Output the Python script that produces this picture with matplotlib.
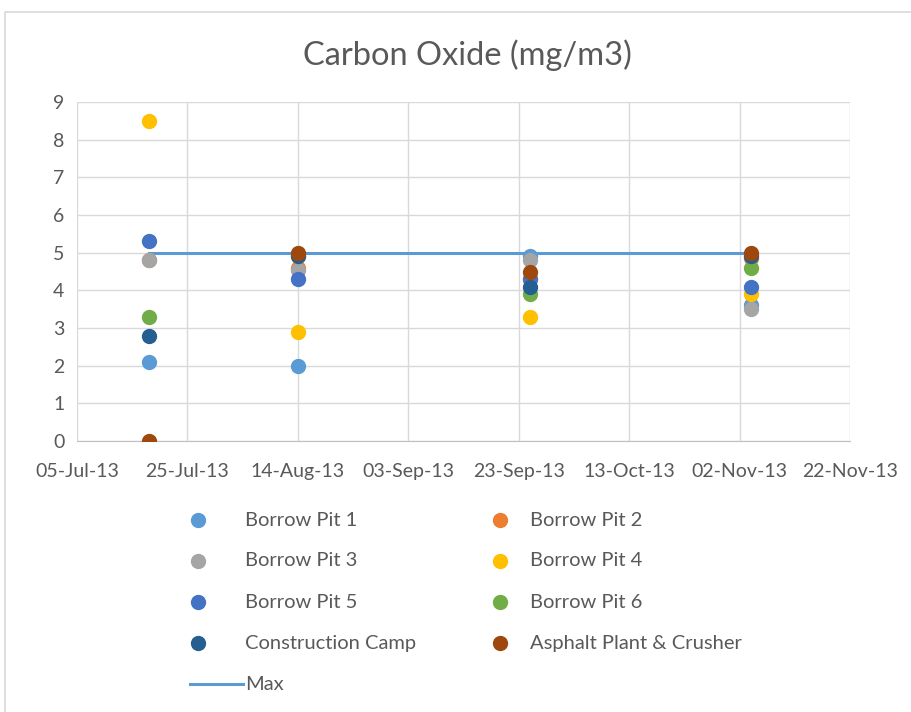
"""Carbon Oxide scatter chart, Excel style."""

import matplotlib

matplotlib.use("Agg")
import matplotlib.dates as mdates
import matplotlib.pyplot as plt
from matplotlib.lines import Line2D
from matplotlib.patches import Rectangle
import pandas as pd

plt.rcParams["font.family"] = ["Lato", "DejaVu Sans"]

# Sampling dates
dates = pd.to_datetime(["2013-07-18", "2013-08-14", "2013-09-25", "2013-11-04"])

# Values per station (mg/m3), one per sampling date
borrow_pit_1 = [2.1, 2.0, 4.9, 3.6]
borrow_pit_2 = [4.8, 4.6, 4.3, 4.85]
borrow_pit_3 = [4.8, 4.55, 4.8, 3.5]
borrow_pit_4 = [8.5, 2.9, 3.3, 3.9]
borrow_pit_5 = [5.3, 4.3, 4.3, 4.1]
borrow_pit_6 = [3.3, 4.9, 3.9, 4.6]
construction_camp = [2.8, 4.9, 4.1, 4.9]
asphalt_plant = [0.0, 5.0, 4.5, 5.0]
max_limit = [5.0, 5.0, 5.0, 5.0]

series = [
    ("Borrow Pit 1", borrow_pit_1, "#5B9BD5"),
    ("Borrow Pit 2", borrow_pit_2, "#ED7D31"),
    ("Borrow Pit 3", borrow_pit_3, "#A5A5A5"),
    ("Borrow Pit 4", borrow_pit_4, "#FFC000"),
    ("Borrow Pit 5", borrow_pit_5, "#4472C4"),
    ("Borrow Pit 6", borrow_pit_6, "#70AD47"),
    ("Construction Camp", construction_camp, "#255E91"),
    ("Asphalt Plant & Crusher", asphalt_plant, "#9E480E"),
]
max_color = "#5B9BD5"

x_start = pd.Timestamp("2013-07-05")
x_end = pd.Timestamp("2013-11-22")
x_ticks = pd.date_range(x_start, x_end, freq="20D")

text_color = "#595959"
grid_color = "#D9D9D9"
W, H = 912, 712

fig = plt.figure(figsize=(W / 100, H / 100), dpi=100)
fig.patch.set_facecolor("white")
fig.patches.append(
    Rectangle((5 / W, -0.01), 1.0, 1 - 12 / H + 0.01, transform=fig.transFigure,
              fill=False, edgecolor="#D9D9D9", linewidth=1.2)
)

ax = fig.add_axes([77 / W, 1 - 441 / H, (850 - 77) / W, (441 - 102) / H])

for name, values, color in series:
    ax.plot(dates, values, linestyle="none", marker="o", markersize=10,
            color=color, label=name, zorder=3)
ax.plot(dates, max_limit, color=max_color, linewidth=2.2, label="Max", zorder=2)

ax.set_xlim(x_start, x_end)
ax.set_ylim(0, 9)
ax.set_xticks(x_ticks)
ax.xaxis.set_major_formatter(mdates.DateFormatter("%d-%b-%y"))
ax.set_yticks(range(0, 10))

ax.grid(True, color=grid_color, linewidth=1)
ax.set_axisbelow(True)
for side in ["top", "right", "left"]:
    ax.spines[side].set_visible(False)
ax.spines["bottom"].set_color("#BFBFBF")
ax.tick_params(axis="both", length=0, labelsize=14, labelcolor=text_color)
ax.tick_params(axis="x", pad=16)
ax.tick_params(axis="y", pad=9)

fig.text(467 / W, 1 - 55 / H, "Carbon Oxide (mg/m3)", ha="center", va="center",
         fontsize=23.5, color=text_color)

# Excel-style legend: marker at left, text after it, filled row by row
entries = [(name, color) for name, _, color in series]
for i, (name, color) in enumerate(entries):
    row, col = divmod(i, 2)
    y = 1 - (520 + 41 * row) / H
    mx = (198 if col == 0 else 500) / W
    tx = (245 if col == 0 else 530) / W
    fig.add_artist(Line2D([mx], [y], marker="o", markersize=10, color=color,
                          linestyle="none", transform=fig.transFigure))
    fig.text(tx, y, name, ha="left", va="center", fontsize=14.5, color=text_color)
y_max = 1 - (520 + 41 * 4) / H
fig.add_artist(Line2D([190 / W, 243 / W], [y_max, y_max], color=max_color,
                      linewidth=2.2, transform=fig.transFigure))
fig.text(245 / W, y_max, "Max", ha="left", va="center", fontsize=14.5, color=text_color)

fig.savefig("out.png", dpi=100)
